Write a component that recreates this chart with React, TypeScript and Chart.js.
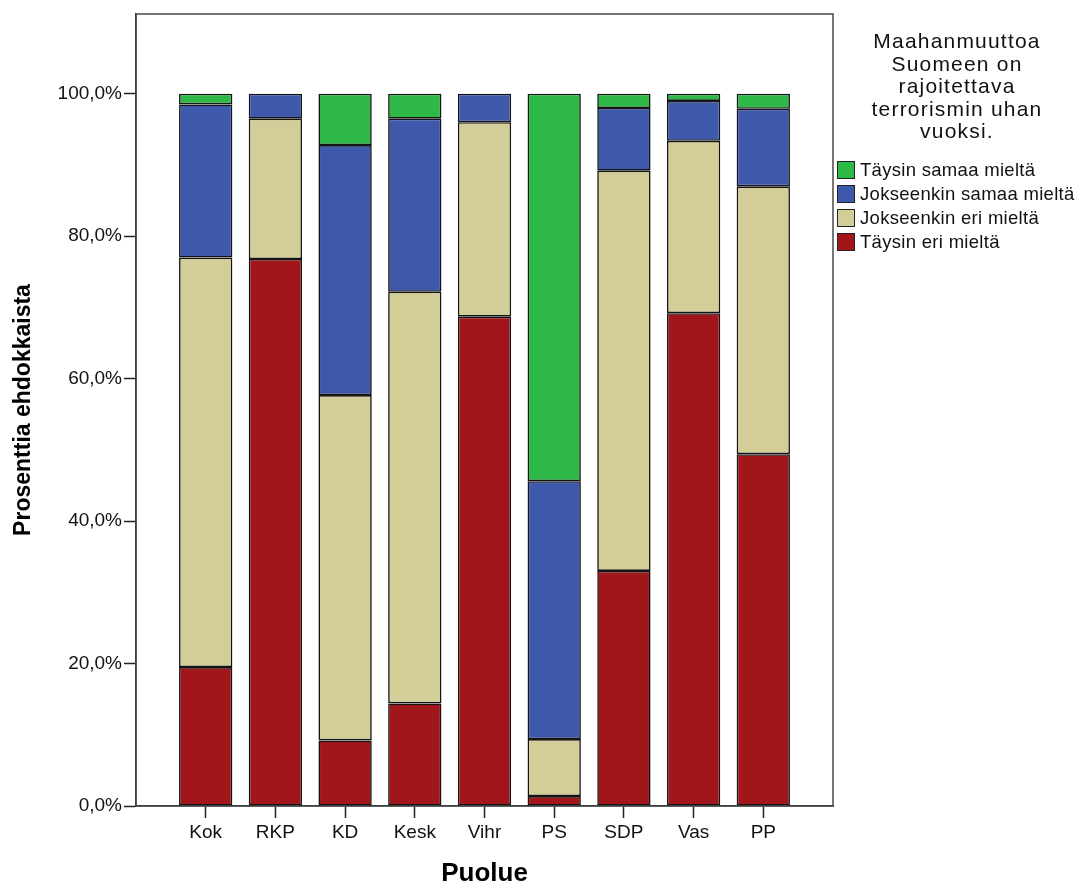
import React, { useEffect, useRef } from "react";
import { Chart, registerables } from "chart.js";

Chart.register(...registerables);

const parties = ["Kok", "RKP", "KD", "Kesk", "Vihr", "PS", "SDP", "Vas", "PP"];
const taysinEri = [19.5, 76.8, 9.2, 14.4, 68.7, 1.4, 33.0, 69.2, 49.4];
const jokseenkinEri = [57.5, 19.7, 48.5, 57.8, 27.3, 8.0, 56.2, 24.2, 37.6];
const jokseenkinSamaa = [21.5, 3.5, 35.1, 24.3, 4.0, 36.2, 8.8, 5.6, 10.9];
const taysinSamaa = [1.5, 0, 7.2, 3.5, 0, 54.4, 2.0, 1.0, 2.1];
const yTicks = [0, 20, 40, 60, 80, 100];

const legendTitle = ["Maahanmuuttoa", "Suomeen on", "rajoitettava", "terrorismin uhan", "vuoksi."];
const seriesNames = ["Täysin samaa mieltä", "Jokseenkin samaa mieltä", "Jokseenkin eri mieltä", "Täysin eri mieltä"];
const seriesColors = ["#2eb848", "#3e58ac", "#d3ce97", "#a0161b"];

const FONT = "'Liberation Sans', Arial, sans-serif";

const pad = (arr: number[]) => [null, ...arr, null];

export default function App() {
  const ref = useRef<HTMLCanvasElement | null>(null);

  useEffect(() => {
    document.body.style.margin = "0";
    document.body.style.overflow = "hidden";
    const canvas = ref.current;
    if (!canvas) return;

    const framePlugin = {
      id: "frame",
      afterDatasetsDraw(chart: any) {
        const { ctx, chartArea } = chart;
        ctx.save();
        ctx.strokeStyle = "#4a4a4a";
        ctx.lineWidth = 1.5;
        ctx.strokeRect(chartArea.left, chartArea.top, chartArea.right - chartArea.left, chartArea.bottom - chartArea.top);
        ctx.restore();
      },
    };

    const chart = new Chart(canvas, {
      type: "bar",
      data: {
        labels: ["", ...parties, ""],
        datasets: [
          { label: seriesNames[3], data: pad(taysinEri), backgroundColor: seriesColors[3] },
          { label: seriesNames[2], data: pad(jokseenkinEri), backgroundColor: seriesColors[2] },
          { label: seriesNames[1], data: pad(jokseenkinSamaa), backgroundColor: seriesColors[1] },
          { label: seriesNames[0], data: pad(taysinSamaa), backgroundColor: seriesColors[0] },
        ].map((d) => ({
          ...d,
          borderColor: "#141414",
          borderWidth: 1.6,
          borderSkipped: false,
          categoryPercentage: 1,
          barPercentage: 0.765,
        })) as any,
      },
      options: {
        responsive: false,
        animation: false,
        layout: { padding: { top: 14, right: 244, bottom: 0, left: 0 } },
        plugins: { legend: { display: false }, tooltip: { enabled: false } },
        scales: {
          x: {
            stacked: true,
            offset: false,
            afterFit: (s: any) => {
              s.height = 79;
            },
            grid: {
              offset: false,
              drawOnChartArea: false,
              tickLength: 12,
              tickWidth: 1.5,
              tickColor: (c: any) => (c.index === 0 || c.index === parties.length + 1 ? "rgba(0,0,0,0)" : "#222"),
            },
            border: { display: true, color: "#222", width: 1.5 },
            ticks: { color: "#111", font: { family: FONT, size: 19 }, padding: 3, maxRotation: 0, autoSkip: false },
            title: {
              display: true,
              text: "Puolue",
              color: "#000",
              font: { family: FONT, size: 26, weight: "bold", lineHeight: 0.8 },
              padding: { top: 0, bottom: 0.6 },
            },
          },
          y: {
            stacked: true,
            min: 0,
            max: 111.2,
            afterFit: (s: any) => {
              s.width = 136;
            },
            afterBuildTicks: (s: any) => {
              s.ticks = yTicks.map((v) => ({ value: v }));
            },
            grid: { drawOnChartArea: false, tickLength: 12, tickWidth: 1.5, tickColor: "#222" },
            border: { display: true, color: "#222", width: 1.5 },
            ticks: {
              color: "#111",
              font: { family: FONT, size: 19 },
              padding: 2,
              callback: (v: any) => Number(v).toFixed(1).replace(".", ",") + "%",
            },
            title: {
              display: true,
              text: "Prosenttia ehdokkaista",
              color: "#000",
              font: { family: FONT, size: 23, weight: "bold", lineHeight: 1.2 },
              padding: { top: 10, bottom: 0 },
            },
          },
        },
      },
      plugins: [framePlugin],
    });
    return () => chart.destroy();
  }, []);

  return (
    <div style={{ position: "relative", width: 1077, height: 885, background: "#fff" }}>
      <canvas ref={ref} width={1077} height={885} style={{ display: "block", width: 1077, height: 885 }} />
      <div
        style={{
          position: "absolute",
          left: 840,
          top: 30,
          width: 234,
          textAlign: "center",
          fontFamily: FONT,
          fontSize: 21,
          lineHeight: "22.5px",
          letterSpacing: "1.2px",
          color: "#111",
        }}
      >
        {legendTitle.map((t, i) => (
          <div key={i}>{t}</div>
        ))}
      </div>
      <div style={{ position: "absolute", left: 837, top: 158, fontFamily: FONT, fontSize: 18.5, color: "#111", letterSpacing: "0.3px" }}>
        {seriesNames.map((n, i) => (
          <div key={i} style={{ display: "flex", alignItems: "center", height: 24, whiteSpace: "nowrap" }}>
            <span
              style={{
                display: "inline-block",
                width: 18,
                height: 18,
                background: seriesColors[i],
                border: "1.5px solid #222",
                marginRight: 5,
                boxSizing: "border-box",
              }}
            />
            <span>{n}</span>
          </div>
        ))}
      </div>
    </div>
  );
}
